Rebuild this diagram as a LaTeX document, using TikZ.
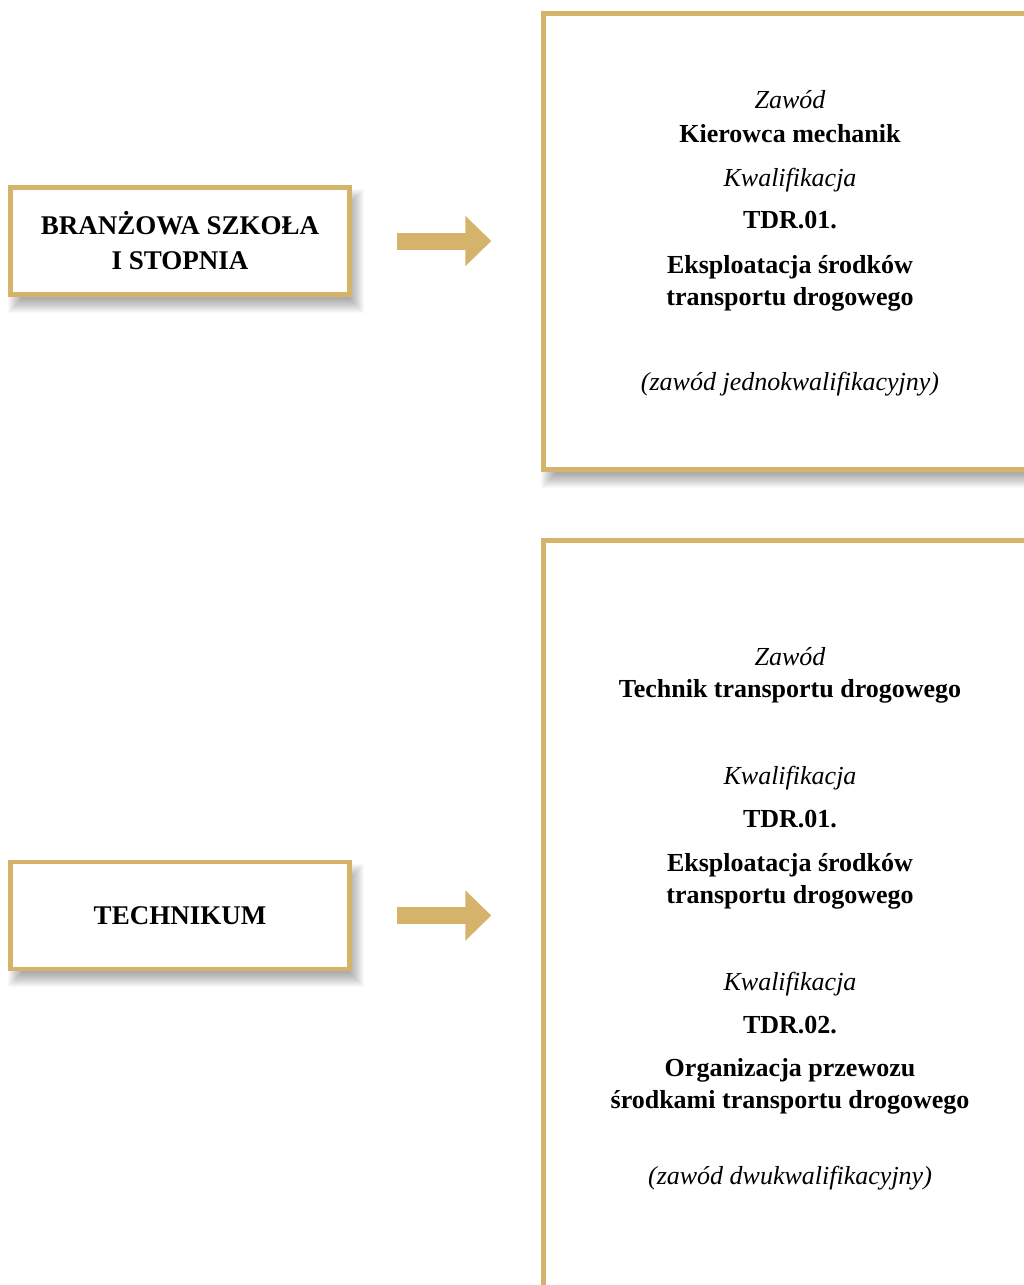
\documentclass[tikz,border=0pt]{standalone}
\usepackage{fontspec}
\setmainfont{Liberation Serif}
\usetikzlibrary{arrows.meta,backgrounds}
\definecolor{gold}{RGB}{214,179,107}
\begin{document}
\begin{tikzpicture}[x=1pt,y=1pt,
  box/.style={draw=gold,line width=4.5pt,fill=white,rectangle,inner sep=0pt},
  lbox/.style={box,minimum width=339pt,minimum height=107pt,align=center,
    font=\fontsize{27}{35}\selectfont\bfseries},
  bl/.style={anchor=base,font=\fontsize{26}{30}\selectfont\bfseries},
  it/.style={anchor=base,font=\fontsize{26}{30}\selectfont\itshape},
  shadowlayer/.style={fill=black,opacity=0.025},
  conn/.style={draw=gold,line width=17pt,-{Triangle[width=49pt,length=26pt]},
    shorten <=45pt,shorten >=50pt}]
\useasboundingbox (0,0) rectangle (1023,-1285);
% right boxes
\node[box,minimum width=600pt,minimum height=456pt] (rb1) at (843.5,-241.5) {};
\node[box,minimum width=600pt,minimum height=860pt] (rb2) at (843.5,-970.5) {};
% left boxes
\node[lbox] (lb1) at (180,-241) {BRANŻOWA SZKOŁA\\I STOPNIA};
\node[lbox] (lb2) at (180,-915.5) {TECHNIKUM};
% shadows
\begin{scope}[on background layer]
  \fill[white] (-10,10) rectangle (1200,-1450);
  \foreach \n in {lb1,lb2,rb1,rb2}{
    \foreach \d in {-8,...,6}{
      \fill[shadowlayer] ([xshift=6pt-\d pt,yshift=-10pt-\d pt]\n.south west)
        rectangle ([xshift=6pt+\d pt,yshift=-10pt+\d pt]\n.north east);
    }
  }
\end{scope}
% arrows
\draw[conn] (lb1.east) -- (lb1.east -| rb1.west);
\draw[conn] (lb2.east) -- (lb2.east -| rb2.west);
% texts box 1
\node[it] (t11) at (790,-108) {Zawód};
\node[bl] (t12) at (790,-142) {Kierowca mechanik};
\node[it] (t13) at (790,-186) {Kwalifikacja};
\node[bl] (t14) at (790,-228) {TDR.01.};
\node[bl] (t15) at (790,-273) {Eksploatacja środków};
\node[bl] (t16) at (790,-305) {transportu drogowego};
\node[it] (t17) at (790,-390) {(zawód jednokwalifikacyjny)};
% texts box 2
\node[it] (t21) at (790,-665) {Zawód};
\node[bl] (t22) at (790,-697) {Technik transportu drogowego};
\node[it] (t23) at (790,-784) {Kwalifikacja};
\node[bl] (t24) at (790,-827) {TDR.01.};
\node[bl] (t25) at (790,-871) {Eksploatacja środków};
\node[bl] (t26) at (790,-903) {transportu drogowego};
\node[it] (t27) at (790,-990) {Kwalifikacja};
\node[bl] (t28) at (790,-1033) {TDR.02.};
\node[bl] (t29) at (790,-1076) {Organizacja przewozu};
\node[bl] (t2a) at (790,-1108) {środkami transportu drogowego};
\node[it] (t2b) at (790,-1184) {(zawód dwukwalifikacyjny)};
\end{tikzpicture}
\end{document}
